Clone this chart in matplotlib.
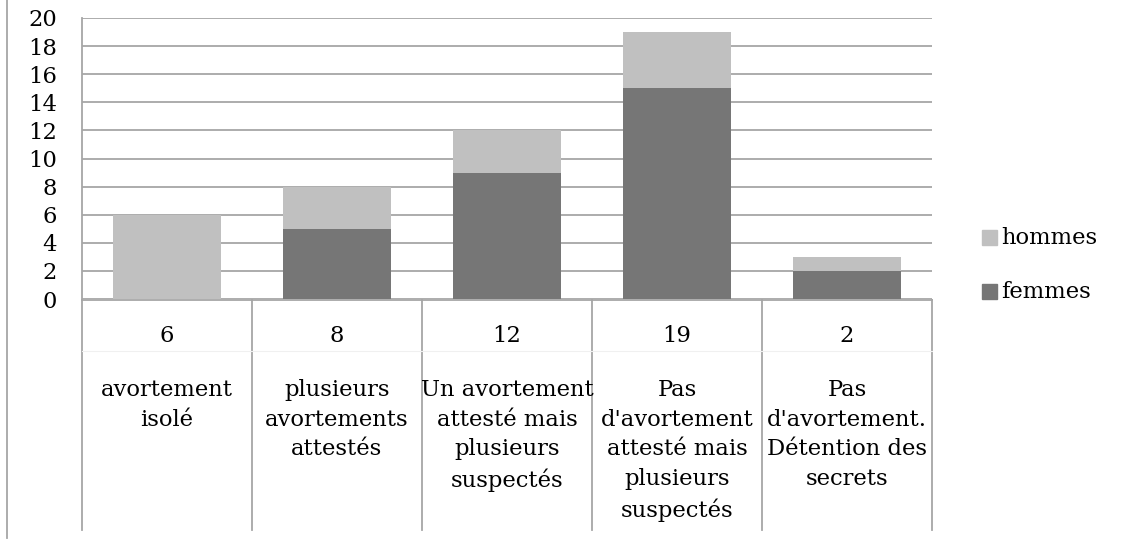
import matplotlib
matplotlib.use("Agg")
import matplotlib.pyplot as plt
from matplotlib.transforms import blended_transform_factory
from matplotlib.lines import Line2D
from matplotlib.patches import Rectangle

categories = ["avortement\nisolé",
              "plusieurs\navortements\nattestés",
              "Un avortement\nattesté mais\nplusieurs\nsuspectés",
              "Pas\nd'avortement\nattesté mais\nplusieurs\nsuspectés",
              "Pas\nd'avortement.\nDétention des\nsecrets"]
count_labels = ["6", "8", "12", "19", "2"]
femmes = [0, 5, 9, 15, 2]
hommes = [6, 3, 3, 4, 1]
yticks = [0, 2, 4, 6, 8, 10, 12, 14, 16, 18, 20]

W, H = 1134, 540
FS = 16.3
plt.rcParams['font.family'] = ['DejaVu Serif']

fig = plt.figure(figsize=(W / 100, H / 100), dpi=100)
ax = fig.add_axes([82 / W, (H - 299) / H, 850 / W, 281 / H])

grid_c = "#a6a6a6"
c_h = "#c0c0c0"
c_f = "#767676"

x = list(range(len(categories)))
ax.bar(x, femmes, width=0.64, color=c_f, zorder=3, label="femmes")
ax.bar(x, hommes, bottom=femmes, width=0.64, color=c_h, zorder=3, label="hommes")

ax.set_xlim(-0.5, len(categories) - 0.5)
ax.set_ylim(0, 20)
ax.set_yticks(yticks)
ax.set_yticklabels([str(v) for v in yticks], fontsize=FS)
ax.tick_params(axis='y', length=0, pad=18)
ax.set_xticks([])
ax.yaxis.grid(True, color=grid_c, linewidth=1.3, zorder=0)
ax.set_axisbelow(True)
for s in ["top", "right", "bottom"]:
    ax.spines[s].set_visible(False)
ax.spines["left"].set_color(grid_c)
ax.spines["left"].set_linewidth(1.3)

# table below axis
tr = blended_transform_factory(ax.transData, fig.transFigure)
y0 = (H - 300) / H
y1 = (H - 530) / H
for b in [i - 0.5 for i in range(len(categories) + 1)]:
    fig.add_artist(Line2D([b, b], [y0, y1], transform=tr, color=grid_c, lw=1.3))
fig.add_artist(Line2D([-0.5, len(categories) - 0.5], [y0, y0], transform=tr,
                      color=grid_c, lw=1.3))
fig.add_artist(Line2D([-0.5, len(categories) - 0.5], [(H - 351) / H] * 2, transform=tr,
                      color="#f0f0f0", lw=0.8))

for i, (c, n) in enumerate(zip(categories, count_labels)):
    fig.text(i, (H - 336) / H, n, transform=tr, ha='center', va='center', fontsize=FS)
    fig.text(i, (H - 379) / H, c, transform=tr, ha='center', va='top', fontsize=FS,
             linespacing=1.45)

# left border line
fig.add_artist(Line2D([7 / W, 7 / W], [1, 2 / H], transform=fig.transFigure,
                      color=grid_c, lw=1.3))

# legend
for lab, col, yc in [("hommes", c_h, 238), ("femmes", c_f, 292)]:
    fig.add_artist(Rectangle((982 / W, (H - yc - 7) / H), 15 / W, 15 / H,
                             transform=fig.transFigure, color=col))
    fig.text(1001 / W, (H - yc) / H, lab, ha='left', va='center', fontsize=FS)

fig.savefig("out.png", dpi=100, facecolor="white")
